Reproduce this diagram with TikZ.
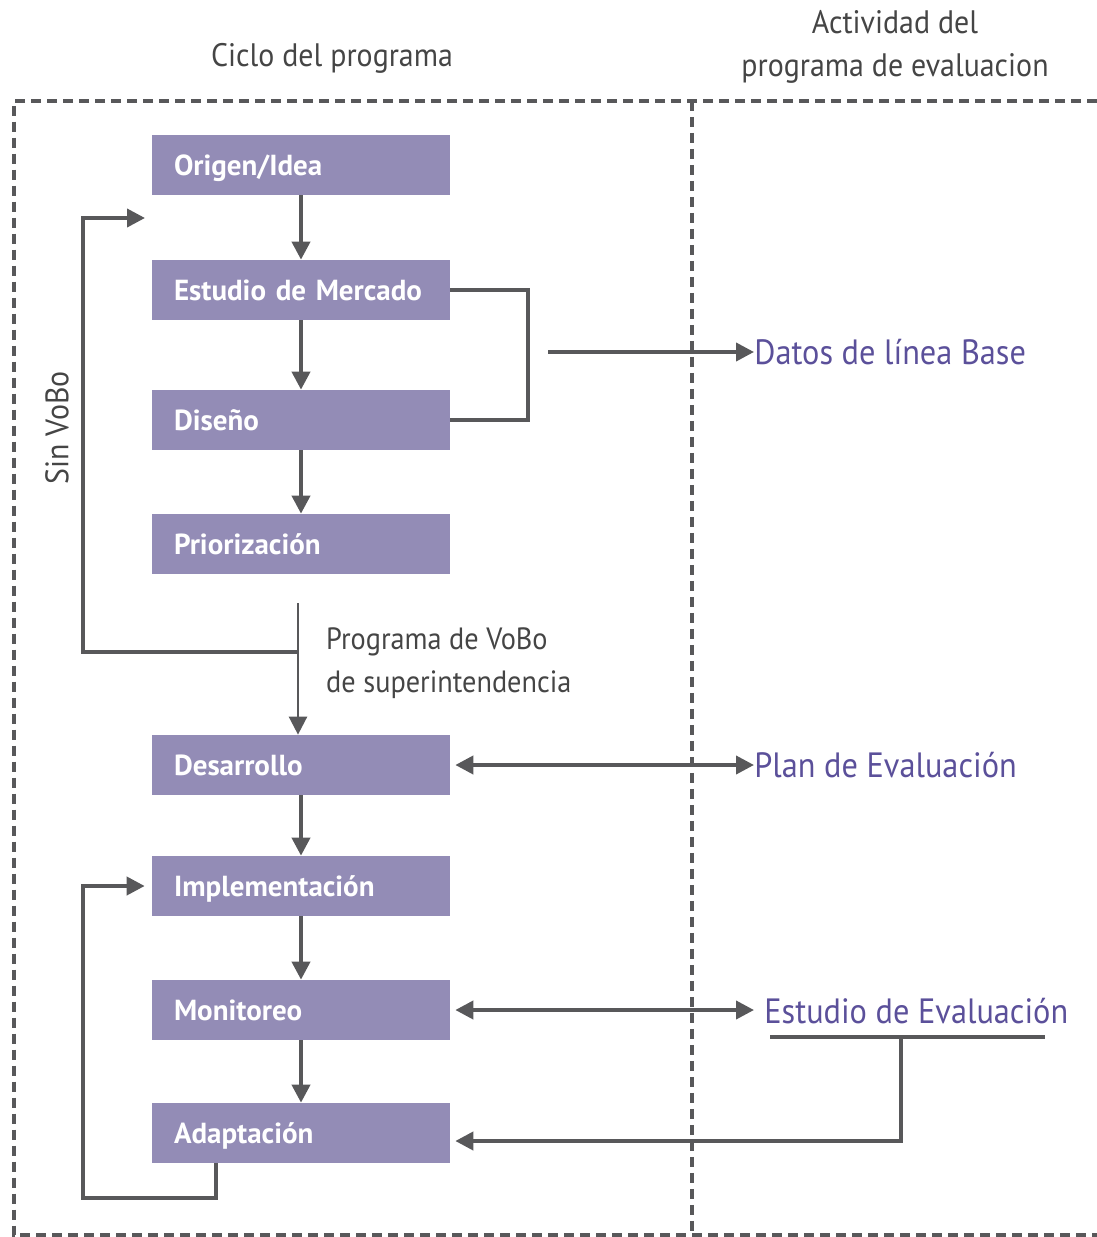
\documentclass[tikz,border=0pt]{standalone}
\usepackage{fontspec}
\setmainfont{PT Sans}
\newfontfamily\narrowfont[FakeStretch=0.92]{PT Sans}
\usetikzlibrary{arrows.meta}
\definecolor{boxfill}{HTML}{938CB6}
\definecolor{linegray}{HTML}{58585A}
\definecolor{evalblue}{HTML}{5B509A}
\definecolor{headgray}{HTML}{454545}
\tikzset{
  stagebox/.style={fill=boxfill, text=white, minimum height=1.2cm,
    inner xsep=0.44cm, text width=5.08cm, align=left, text depth=0pt,
    font=\fontsize{16.5}{19}\selectfont\bfseries},
  conn/.style={draw=linegray, line width=2.2pt,
    -{Triangle[length=0.36cm,width=0.36cm]}},
  bothconn/.style={conn, {Triangle[length=0.36cm,width=0.36cm]}-{Triangle[length=0.36cm,width=0.36cm]}},
  evallabel/.style={anchor=west, inner sep=0pt, text=evalblue,
    font=\narrowfont\fontsize{20}{23}\selectfont},
  headlabel/.style={text=headgray, align=center,
    font=\narrowfont\fontsize{18.5}{24.5}\selectfont},
  framedash/.style={draw=linegray, line width=1.9pt,
    dash pattern=on 0.2cm off 0.12cm}
}
\begin{document}
\begin{tikzpicture}[x=0.02cm,y=-0.02cm]
        \useasboundingbox (0,0) rectangle (1097,1237);%

        % Column headings
        \node [headlabel] (ciclo) at (332,58) {Ciclo del programa};%
        \node [headlabel] (activ) at (895,47) {Actividad del\\programa de evaluacion};%

        % Dashed frame and divider
        \draw [framedash] (1097,101) -- (14,101) -- (14,1235) -- (1097,1235);%
        \draw [framedash] (692,101) -- (692,1235);%

        % Stages of the programme
        \node [stagebox] (orig) at (301,165) {Origen/Idea};%
        \node [stagebox] (estu) at (301,290) {Estudio de Mercado};%
        \node [stagebox] (dise) at (301,420) {Diseño};%
        \node [stagebox] (prio) at (301,544) {Priorización};%
        \node [stagebox] (desa) at (301,765) {Desarrollo};%
        \node [stagebox] (impl) at (301,886) {Implementación};%
        \node [stagebox] (moni) at (301,1010) {Monitoreo};%
        \node [stagebox] (adap) at (301,1133) {Adaptación};%

        % Evaluation activities
        \node [evallabel] (datos) at (754,352) {Datos de línea Base};%
        \node [evallabel] (plan) at (754,765) {Plan de Evaluación};%
        \node [evallabel] (estev) at (764,1011) {Estudio de Evaluación};%

        % Side labels
        \node [headlabel, rotate=90] (sinvobo) at (57,428) {Sin VoBo};%
        \node [headlabel, align=left, anchor=west,
          font=\narrowfont\fontsize{17.5}{24.5}\selectfont] (vobo) at (320,663)
          {Programa de VoBo\\de superintendencia};%

        % Straight flow between stages
        \draw [conn] (orig) -- (estu);%
        \draw [conn] (estu) -- (dise);%
        \draw [conn] (dise) -- (prio);%
        \draw [conn] (desa) -- (impl);%
        \draw [conn] (impl) -- (moni);%
        \draw [conn] (moni) -- (adap);%

        % Approval branch
        \coordinate (vtop) at (298,603);%
        \coordinate (vjoin) at (298,652);%
        \coordinate (vleft) at (83,652);%
        \coordinate (sinin) at (145,218);%
        \draw [conn, line width=1.4pt] (vtop) -- (vtop |- desa.north);%
        \draw [conn] (vjoin) -- (vleft) |- (sinin);%

        % Baseline bracket
        \coordinate (brk) at (548,352);%
        \draw [draw=linegray, line width=2.2pt] (estu.east) -- ++(78,0) |- (dise.east);%
        \draw [conn] (brk) -- (datos.west);%

        % Two-way links
        \draw [bothconn, shorten <=0.1cm] (desa.east) -- (plan.west);%
        \draw [bothconn, shorten <=0.1cm, shorten >=0.2cm] (moni.east) -- (estev.west |- moni.east);%

        % Evaluation feedback to adaptation
        \coordinate (ula) at (770,1037);%
        \coordinate (ulb) at (1045,1037);%
        \coordinate (ulm) at (901,1037);%
        \draw [draw=linegray, line width=2.2pt] (ula) -- (ulb);%
        \draw [conn, shorten >=0.1cm] (ulm) |- ([yshift=-0.16cm]adap.east);%

        % Adaptation loop
        \coordinate (aloop) at (83,1198);%
        \draw [conn, shorten >=0.14cm] ([xshift=-1.7cm]adap.south) |- (aloop) |- (impl.west);%
\end{tikzpicture}
\end{document}
